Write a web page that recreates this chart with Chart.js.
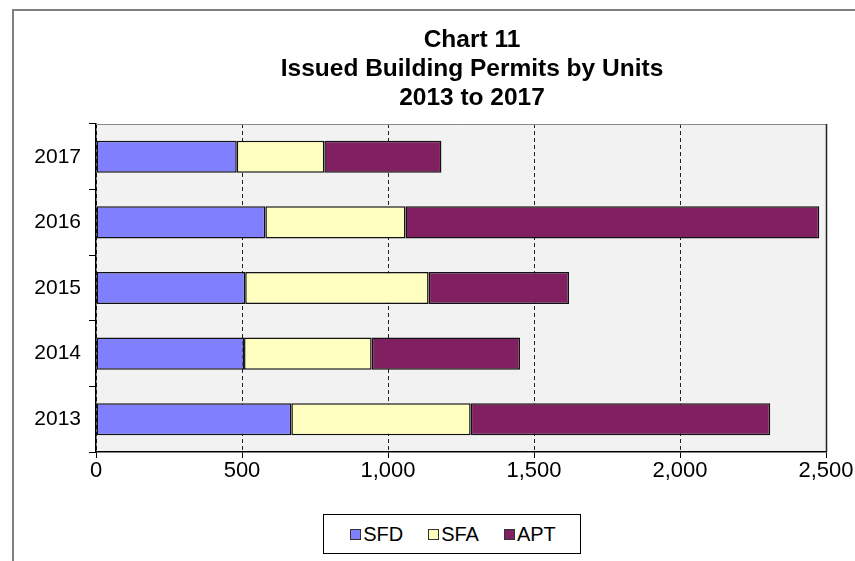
<!DOCTYPE html>
<html lang="en">
<head>
<meta charset="UTF-8">
<title>Chart 11 - Issued Building Permits by Units</title>
<script src="https://cdn.jsdelivr.net/npm/chart.js"></script>
<style>
    html, body { margin: 0; padding: 0; background: #fff; }
    #wrap { position: relative; width: 855px; height: 561px; }
    #legend {
        position: absolute;
        left: 323px; top: 514px;
        width: 254px; height: 38px;
        border: 1px solid #000;
        background: #fff;
        display: flex;
        align-items: center;
        justify-content: center;
        gap: 25px;
        font-family: "Liberation Sans", Arial, sans-serif;
        font-size: 20px;
        color: #000;
        padding-left: 2px;
        box-sizing: content-box;
    }
    #legend .item { display: flex; align-items: center; gap: 2px; }
    #legend .mark { width: 9px; height: 9px; border: 1px solid #333; }
</style>
</head>
<body>
<div id="wrap">
    <canvas id="chartCanvas" width="855" height="561"></canvas>
    <div id="legend"></div>
</div>
<script>
    // data (units)
    const years = ['2013', '2014', '2015', '2016', '2017'];
    const sfd = [669, 507, 511, 580, 482];
    const sfa = [614, 437, 628, 480, 300];
    const apt = [1026, 508, 481, 1417, 401];
    const xTicks = [0, 500, 1000, 1500, 2000, 2500];

    const FONT = '"Liberation Sans", Arial, sans-serif';
    const TITLE_CENTER = 472;

    // grey plot background, outer frame and plot border
    const decor = {
        id: 'decor',
        afterLayout(chart) {
            // the title sits over the plot, not over the whole canvas
            const t = chart.titleBlock;
            const shift = TITLE_CENTER - (t.left + t.right) / 2;
            t.left += shift;
            t.right += shift;
        },
        beforeDraw(chart) {
            const c = chart.ctx, a = chart.chartArea;
            c.save();
            c.fillStyle = '#fff';
            c.fillRect(0, 0, chart.width, chart.height);
            c.strokeStyle = '#7f7f7f';
            c.lineWidth = 2;
            c.strokeRect(13, 10, 900, 700);
            c.fillStyle = '#f2f2f2';
            c.fillRect(a.left, a.top, a.right - a.left, a.bottom - a.top);
            c.restore();
        },
        afterDraw(chart) {
            const c = chart.ctx, a = chart.chartArea;
            c.save();
            c.strokeStyle = '#888';
            c.lineWidth = 1;
            c.beginPath();
            c.moveTo(a.left, a.top + 0.5);
            c.lineTo(a.right + 0.5, a.top + 0.5);
            c.stroke();
            c.strokeStyle = '#222';
            c.lineWidth = 1.5;
            c.beginPath();
            c.moveTo(a.right + 0.5, a.top);
            c.lineTo(a.right + 0.5, a.bottom);
            c.stroke();
            c.restore();
        }
    };

    const ctx = document.getElementById('chartCanvas').getContext('2d');
    const chart = new Chart(ctx, {
        type: 'bar',
        data: {
            labels: years,
            datasets: [
                { label: 'SFD', data: sfd, backgroundColor: '#8080ff' },
                { label: 'SFA', data: sfa, backgroundColor: '#ffffc0' },
                { label: 'APT', data: apt, backgroundColor: '#802060' }
            ].map(d => Object.assign(d, {
                borderColor: '#111',
                borderWidth: 1.5,
                borderSkipped: false,
                barPercentage: 0.49,
                categoryPercentage: 1
            }))
        },
        options: {
            indexAxis: 'y',
            responsive: false,
            animation: false,
            layout: { padding: { left: 0, right: 29, top: 0, bottom: 0 } },
            scales: {
                x: {
                    stacked: true,
                    min: 0,
                    max: 2500,
                    afterBuildTicks(s) { s.ticks = xTicks.map(v => ({ value: v })); },
                    ticks: {
                        color: '#000',
                        font: { family: FONT, size: 22 },
                        padding: 0,
                        maxRotation: 0,
                        callback: v => v.toLocaleString('en-US')
                    },
                    grid: {
                        color: '#222',
                        lineWidth: 1,
                        tickLength: 6,
                        tickColor: '#000'
                    },
                    border: { display: true, color: '#000', width: 1.5, dash: [4, 3] },
                    afterFit(s) { s.height = 109; }
                },
                y: {
                    stacked: true,
                    reverse: true,
                    ticks: {
                        color: '#000',
                        font: { family: FONT, size: 21 },
                        padding: 8
                    },
                    grid: {
                        drawOnChartArea: false,
                        tickLength: 7,
                        tickColor: '#000'
                    },
                    border: { display: true, color: '#000', width: 1.5 },
                    afterFit(s) { s.width = 96; }
                }
            },
            plugins: {
                title: {
                    display: true,
                    text: ['Chart 11', 'Issued Building Permits by Units', '2013 to 2017'],
                    color: '#000',
                    font: { family: FONT, size: 24.5, weight: 'bold', lineHeight: '29px' },
                    padding: { top: 26, bottom: 11 }
                },
                legend: { display: false },
                tooltip: { enabled: false }
            }
        },
        plugins: [decor]
    });

    // legend built from the chart's datasets
    const legend = document.getElementById('legend');
    chart.data.datasets.forEach(ds => {
        const item = document.createElement('div');
        item.className = 'item';
        const mark = document.createElement('span');
        mark.className = 'mark';
        mark.style.background = ds.backgroundColor;
        const txt = document.createElement('span');
        txt.textContent = ds.label;
        item.append(mark, txt);
        legend.appendChild(item);
    });
</script>
</body>
</html>
